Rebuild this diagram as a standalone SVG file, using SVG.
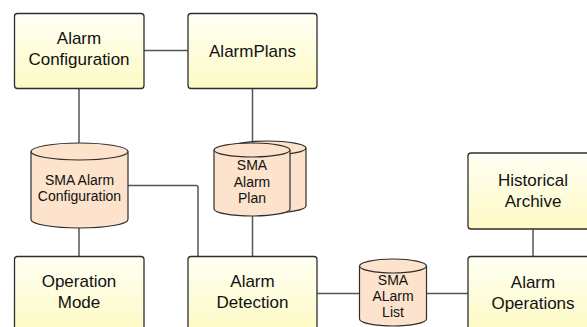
<svg xmlns="http://www.w3.org/2000/svg" width="587" height="327" viewBox="0 0 587 327">
  <defs>
    <linearGradient id="boxFill" x1="0" y1="0" x2="0" y2="1">
      <stop offset="0" stop-color="#fffff4"/>
      <stop offset="1" stop-color="#fdfac4"/>
    </linearGradient>
  </defs>
  <style>
    .box { fill: url(#boxFill); stroke: #2e2e2e; stroke-width: 1.3; }
    .cyl { fill: #fde3cb; stroke: #2e2e2e; stroke-width: 1.2; }
    .cap { fill: none; stroke: #2e2e2e; stroke-width: 1.2; }
    .edge { fill: none; stroke: #555555; stroke-width: 1.5; }
    .lbl { font-family: "Liberation Sans", Arial, sans-serif; font-size: 17px; fill: #111111; text-anchor: middle; }
    .dlbl { font-family: "Liberation Sans", Arial, sans-serif; font-size: 14px; fill: #111111; text-anchor: middle; }
  </style>

  <!-- connectors -->
  <g id="connectors">
    <path class="edge" d="M144 50.5 H188"/>
    <path class="edge" d="M79 88.5 V143"/>
    <path class="edge" d="M252.5 88.5 V143"/>
    <path class="edge" d="M79 228 V256.5"/>
    <path class="edge" d="M128 185.5 H196 Q198 185.5 198 187.5 V256.5"/>
    <path class="edge" d="M252.5 216 V256.5"/>
    <path class="edge" d="M317 293.5 H359.5"/>
    <path class="edge" d="M426.5 293.5 H468"/>
    <path class="edge" d="M533 229 V256.5"/>
  </g>

  <!-- process boxes -->
  <g id="alarm-configuration">
    <rect class="box" x="14.5" y="13.5" width="129.5" height="75" rx="3"/>
    <text class="lbl" x="79" y="44">Alarm</text>
    <text class="lbl" x="79" y="65">Configuration</text>
  </g>
  <g id="alarm-plans">
    <rect class="box" x="188" y="13.5" width="129" height="75" rx="3"/>
    <text class="lbl" x="252.5" y="56.5">AlarmPlans</text>
  </g>
  <g id="operation-mode">
    <rect class="box" x="14.5" y="256.5" width="129.5" height="75" rx="3"/>
    <text class="lbl" x="79" y="287">Operation</text>
    <text class="lbl" x="79" y="308">Mode</text>
  </g>
  <g id="alarm-detection">
    <rect class="box" x="188" y="256.5" width="129" height="75" rx="3"/>
    <text class="lbl" x="252.5" y="287">Alarm</text>
    <text class="lbl" x="252.5" y="308">Detection</text>
  </g>
  <g id="historical-archive">
    <rect class="box" x="468" y="153" width="130" height="76" rx="3"/>
    <text class="lbl" x="533" y="186">Historical</text>
    <text class="lbl" x="533" y="207">Archive</text>
  </g>
  <g id="alarm-operations">
    <rect class="box" x="468" y="256.5" width="130" height="75" rx="3"/>
    <text class="lbl" x="533" y="288">Alarm</text>
    <text class="lbl" x="533" y="309">Operations</text>
  </g>

  <!-- data stores -->
  <g id="sma-alarm-configuration">
    <path class="cyl" d="M31 151.5 V219.5 A48.5 8.5 0 0 0 128 219.5 V151.5 A48.5 8.5 0 0 0 31 151.5 Z"/>
    <path class="cap" d="M31 151.5 A48.5 8.5 0 0 0 128 151.5"/>
    <text class="dlbl" x="79.5" y="185">SMA Alarm</text>
    <text class="dlbl" x="79.5" y="201">Configuration</text>
  </g>
  <g id="sma-alarm-plan">
    <path class="cyl" d="M229.5 148 V206 A38.25 7 0 0 0 306 206 V148 A38.25 7 0 0 0 229.5 148 Z"/>
    <path class="cap" d="M229.5 148 A38.25 7 0 0 0 306 148"/>
    <path class="cyl" d="M214 150 V209 A38 7 0 0 0 290 209 V150 A38 7 0 0 0 214 150 Z"/>
    <path class="cap" d="M214 150 A38 7 0 0 0 290 150"/>
    <text class="dlbl" x="252" y="170">SMA</text>
    <text class="dlbl" x="252" y="186.5">Alarm</text>
    <text class="dlbl" x="252" y="203">Plan</text>
  </g>
  <g id="sma-alarm-list">
    <path class="cyl" d="M359.5 266 V319 A33.5 7 0 0 0 426.5 319 V266 A33.5 7 0 0 0 359.5 266 Z"/>
    <path class="cap" d="M359.5 266 A33.5 7 0 0 0 426.5 266"/>
    <text class="dlbl" x="393" y="285">SMA</text>
    <text class="dlbl" x="393" y="301">ALarm</text>
    <text class="dlbl" x="393" y="317">List</text>
  </g>
</svg>
